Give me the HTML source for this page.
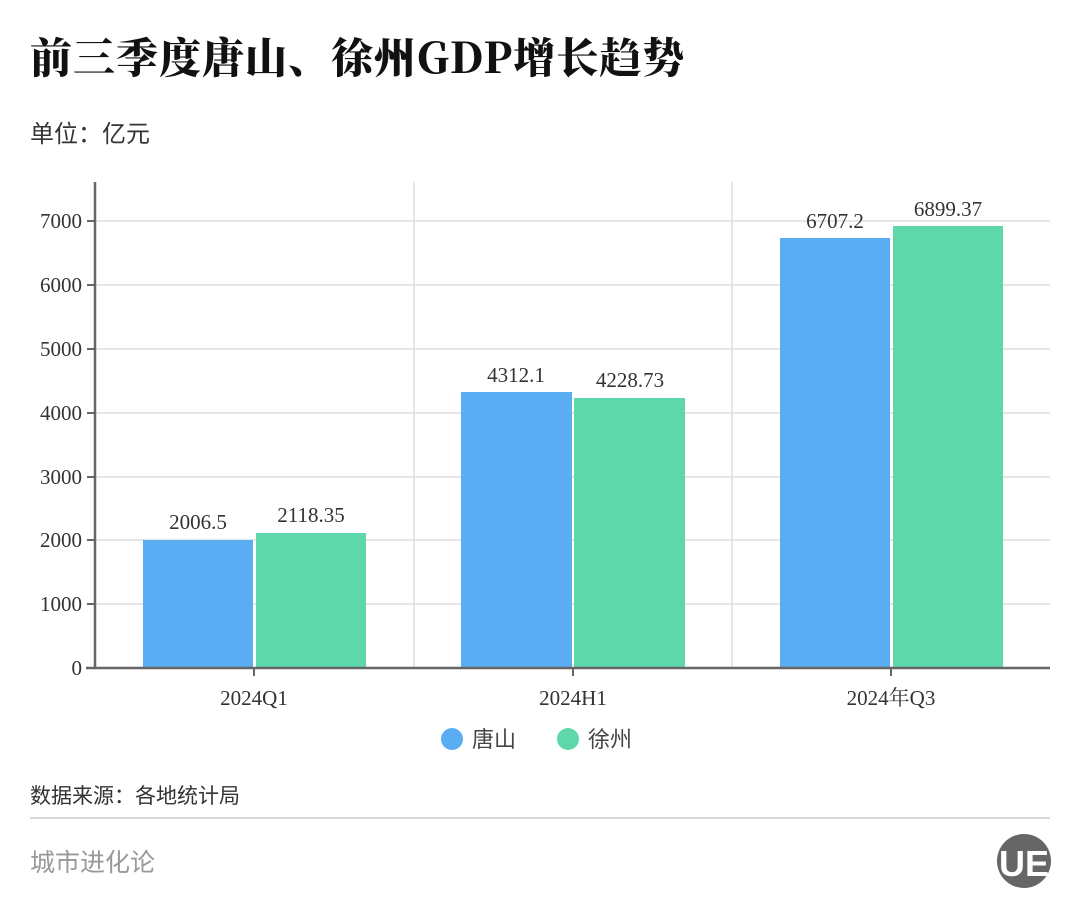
<!DOCTYPE html>
<html><head><meta charset="utf-8"><style>
body{margin:0;background:#fff;width:1080px;height:918px;overflow:hidden}
svg text{font-family:"Liberation Serif","Noto Serif CJK SC",serif}
</style></head><body>
<svg width="1080" height="918" xmlns="http://www.w3.org/2000/svg">
<text x="30" y="73" style="font-family:'Noto Serif CJK SC',serif;font-weight:900" font-size="42" letter-spacing="1" fill="#111">前三季度唐山、徐州GDP增长趋势</text>
<text x="30" y="142" font-size="24" fill="#333" style="font-family:'Noto Sans CJK SC',sans-serif">单位：亿元</text>
<g stroke="#ddd" stroke-width="1.5">
<line x1="95" y1="221" x2="1050" y2="221"/><line x1="95" y1="285" x2="1050" y2="285"/>
<line x1="95" y1="349" x2="1050" y2="349"/><line x1="95" y1="413" x2="1050" y2="413"/>
<line x1="95" y1="477" x2="1050" y2="477"/><line x1="95" y1="540" x2="1050" y2="540"/>
<line x1="95" y1="604" x2="1050" y2="604"/>
<line x1="414" y1="182" x2="414" y2="668"/><line x1="732" y1="182" x2="732" y2="668"/>
</g>
<g fill="#5aacf3"><rect x="143" y="540" width="110" height="128"/><rect x="461" y="392" width="111" height="276"/><rect x="780" y="238" width="110" height="430"/></g>
<g fill="#5ed8aa"><rect x="256" y="533" width="110" height="135"/><rect x="574" y="398" width="111" height="270"/><rect x="893" y="226" width="110" height="442"/></g>
<g stroke="#666" stroke-width="2.5"><line x1="95" y1="182" x2="95" y2="668"/><line x1="86" y1="668" x2="1050" y2="668"/></g>
<g stroke="#666" stroke-width="2">
<line x1="87" y1="221" x2="95" y2="221"/><line x1="87" y1="285" x2="95" y2="285"/><line x1="87" y1="349" x2="95" y2="349"/><line x1="87" y1="413" x2="95" y2="413"/><line x1="87" y1="477" x2="95" y2="477"/><line x1="87" y1="540" x2="95" y2="540"/><line x1="87" y1="604" x2="95" y2="604"/><line x1="87" y1="668" x2="95" y2="668"/>
<line x1="254" y1="668" x2="254" y2="676"/><line x1="573" y1="668" x2="573" y2="676"/><line x1="891" y1="668" x2="891" y2="676"/>
</g>
<g font-size="21" fill="#333" text-anchor="end">
<text x="82" y="228">7000</text><text x="82" y="292">6000</text><text x="82" y="356">5000</text><text x="82" y="420">4000</text><text x="82" y="484">3000</text><text x="82" y="547">2000</text><text x="82" y="611">1000</text><text x="82" y="675">0</text>
</g>
<g font-size="21" fill="#333" text-anchor="middle">
<text x="254" y="705">2024Q1</text><text x="573" y="705">2024H1</text><text x="891" y="705">2024年Q3</text>
<text x="198" y="529">2006.5</text><text x="311" y="522">2118.35</text>
<text x="516" y="382">4312.1</text><text x="630" y="387">4228.73</text>
<text x="835" y="228">6707.2</text><text x="948" y="216">6899.37</text>
</g>
<circle cx="452" cy="739" r="11" fill="#5aacf3"/><text x="472" y="747" font-size="22" fill="#444" style="font-family:'Noto Sans CJK SC',sans-serif">唐山</text>
<circle cx="568" cy="739" r="11" fill="#5ed8aa"/><text x="588" y="747" font-size="22" fill="#444" style="font-family:'Noto Sans CJK SC',sans-serif">徐州</text>
<text x="30" y="803" font-size="21" fill="#333" style="font-family:'Noto Sans CJK SC',sans-serif">数据来源：各地统计局</text>
<line x1="30" y1="818" x2="1050" y2="818" stroke="#ccc" stroke-width="1.5"/>
<text x="30" y="871" font-size="25" fill="#999" style="font-family:'Noto Sans CJK SC',sans-serif">城市进化论</text>
<circle cx="1024" cy="861" r="27" fill="#666"/>
<text x="1024" y="876" font-size="36" font-weight="bold" fill="#fff" text-anchor="middle" style="font-family:'Liberation Sans',sans-serif">UE</text>
</svg>
</body></html>
